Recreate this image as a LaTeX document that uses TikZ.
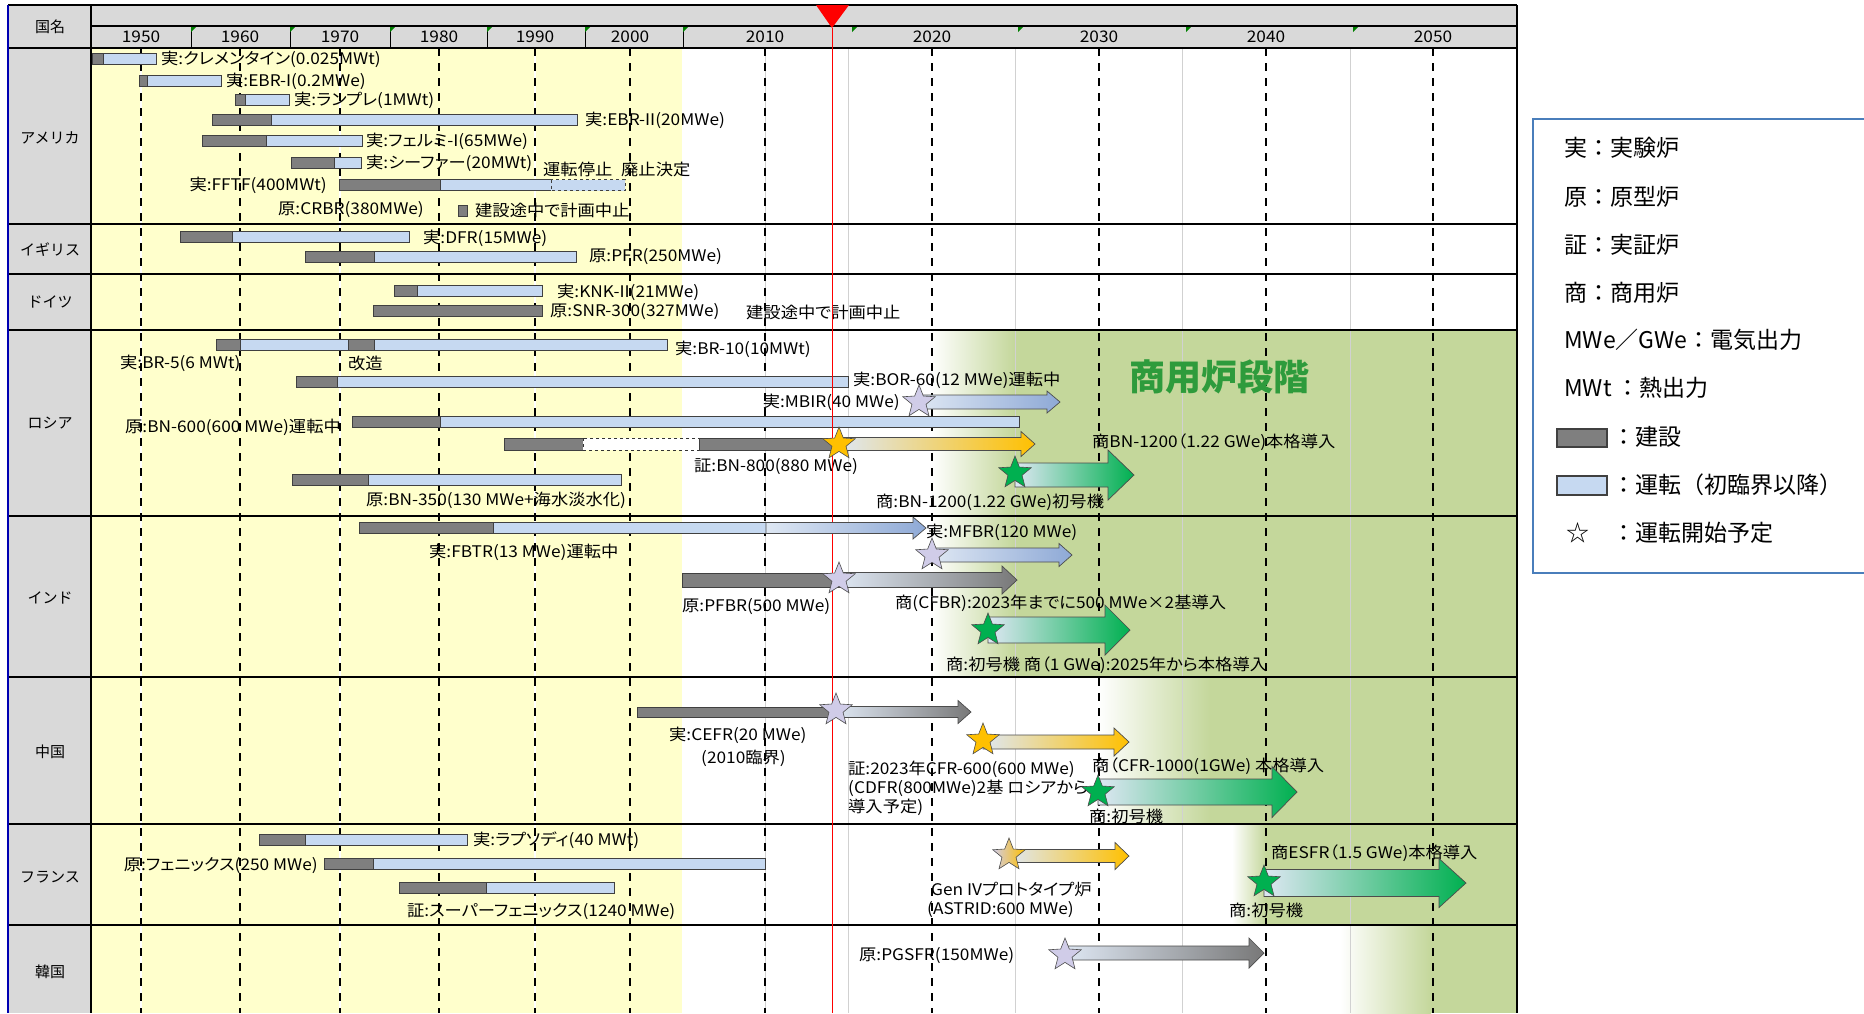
\documentclass[tikz,border=0pt]{standalone}
\usepackage{fontspec}
\setmainfont{Noto Sans CJK JP}
\newfontfamily\tblfont[FakeStretch=1.08, RawFeature=+palt]{Noto Sans CJK JP}
\usetikzlibrary{shapes.geometric}
\definecolor{buildgray}{RGB}{127,127,127}
\definecolor{runblue}{RGB}{198,217,241}
\definecolor{yellowbg}{RGB}{255,255,204}
\definecolor{greenbg}{RGB}{196,215,155}
\definecolor{headgray}{RGB}{217,217,217}
\definecolor{arrowbase}{RGB}{222,231,243}
\definecolor{arrowmid}{RGB}{190,208,232}
\definecolor{arrowsteel}{RGB}{142,169,214}
\definecolor{arrowgray}{RGB}{120,120,120}
\definecolor{gold}{RGB}{255,192,0}
\definecolor{stargreen}{RGB}{0,176,80}
\definecolor{lavender}{RGB}{208,204,232}
\definecolor{legendblue}{RGB}{74,126,187}
\definecolor{stagegreen}{RGB}{46,155,60}
\tikzset{>=stealth,
  build/.style={fill=buildgray, draw=black!75, line width=0.8pt},
  run/.style={fill=runblue, draw=black!75, line width=0.8pt},
  lbl/.style={anchor=west, inner sep=0pt, font=\tblfont\fontsize{16}{18}\selectfont},
  ctry/.style={inner sep=0pt, font=\fontsize{15}{18}\selectfont},
  legtext/.style={anchor=west, inner sep=0pt, font=\fontsize{23}{26}\selectfont},
  starpt/.style={star, star points=5, star point ratio=2.3, minimum size=34pt,
    inner sep=0pt, draw=black!70, line width=0.6pt},
  majordash/.style={line width=2.6pt, dash pattern=on 8pt off 7pt},
  minordash/.style={line width=1.6pt, dash pattern=on 8pt off 7pt},
  rowline/.style={line width=2pt}}
% gantt bar: y, start of building, first criticality, end
\newcommand{\gantt}[4]{%
  \draw[build] (#2,#1-5.5) rectangle (#3,#1+5.5);
  \draw[run] (#3,#1-5.5) rectangle (#4,#1+5.5);}
% block arrow: x1, x2, y, body half, head half, head length, end colour
\newcommand{\blk}[7]{%
  \shadedraw[left color=arrowbase, middle color=arrowmid, right color=#7,
    draw=black!70, line width=0.7pt]
  (#1,#3-#4) -- ({#2-#6},#3-#4) -- ({#2-#6},#3-#5) -- (#2,#3)
  -- ({#2-#6},#3+#5) -- ({#2-#6},#3+#4) -- (#1,#3+#4) -- cycle;}

\begin{document}
\begin{tikzpicture}[x=1pt,y=-1pt]
\useasboundingbox (0,0) rectangle (1864,1013);
\fill[white] (0,0) rectangle (1864,1013);

% backgrounds
\fill[headgray] (8,5) rectangle (1517,48);
\fill[headgray] (8,48) rectangle (91,1013);
\fill[yellowbg] (91,48) rectangle (682,1013);
\fill[greenbg] (1015,330) rectangle (1517,677);
\shade[left color=white, right color=greenbg] (931,330) rectangle (1015,677);
\fill[greenbg] (1210,677) rectangle (1517,824);
\shade[left color=white, right color=greenbg] (1098,677) rectangle (1210,824);
\fill[greenbg] (1266,824) rectangle (1517,925);
\shade[left color=white, right color=greenbg] (1232,824) rectangle (1266,925);
\fill[greenbg] (1431,925) rectangle (1517,1013);
\shade[left color=white, right color=greenbg] (1340,925) rectangle (1431,1013);

% grid
\foreach \x in {848,1015,1182,1350}
  \draw[black!18, line width=0.8pt] (\x,48) -- (\x,1013);
\foreach \x in {141,340,535}
  \draw[white, line width=1.5pt] (\x,48) -- (\x,1013);
\draw[black!18, line width=0.8pt] (765,48) -- (765,1013);
\foreach \x in {141,340,535,765}
  \draw[minordash] (\x,48) -- (\x,1013);
\foreach \x in {240,439,630,932,1099,1266,1433}
  \draw[majordash] (\x,48) -- (\x,1013);

% header
\draw[line width=1.5pt] (91,26) -- (1517,26);
\foreach \x in {191,290,390,487,585,683}
  \draw[line width=0.8pt] (\x,26) -- (\x,48);
\foreach \x in {191,290,390,487,585,683,852,1018,1186,1353}
  \fill[green!50!black] (\x,27) -- (\x+5,27) -- (\x,32) -- cycle;
\foreach \yr/\x in {1950/141,1960/240,1970/340,1980/439,1990/535,2000/630,
  2010/765,2020/932,2030/1099,2040/1266,2050/1433}
  \node[lbl, anchor=center] (y\yr) at (\x,37) {\yr};
\node[ctry] (head) at (50,27) {国名};

% table lines
\foreach \y in {48,224,274,330,516,677,824,925}
  \draw[rowline] (8,\y) -- (1517,\y);
\draw[line width=2.5pt] (8,5) -- (1517,5);
\draw[line width=2.5pt] (1517,5) -- (1517,1013);
\draw[rowline] (91,5) -- (91,1013);
\draw[blue!70!black, line width=1.5pt] (8,5) -- (8,1013);
\foreach \c/\y in {アメリカ/138,イギリス/250,ドイツ/302,ロシア/423,
  インド/598,中国/752,フランス/877,韓国/972}
  \node[ctry] (c\y) at (50,\y) {\c};

% present year
\fill[red] (816,5) -- (849,5) -- (832,28) -- cycle;

% America
\gantt{59}{92}{103}{156}
\node[lbl] (clem) at (161,59) {実:クレメンタイン(0.025MWt)};
\gantt{81}{139}{147}{221}
\node[lbl] (ebr1) at (226,81) {実:EBR-I(0.2MWe)};
\gantt{100}{235}{245}{289}
\node[lbl] (lampre) at (294,100) {実:ランプレ(1MWt)};
\gantt{120}{212}{271}{577}
\node[lbl] (ebr2) at (585,120) {実:EBR-II(20MWe)};
\gantt{141}{202}{266}{362}
\node[lbl] (fermi) at (366,141) {実:フェルミ-I(65MWe)};
\gantt{163}{291}{334}{361}
\node[lbl] (sefor) at (366,163) {実:シーファー(20MWt)};
\gantt{185}{339}{440}{551}
\draw[run, dashed] (551,179.5) rectangle (625,190.5);
\node[lbl, anchor=east] (fftf) at (327,185) {実:FFTF(400MWt)};
\node[lbl] (stop) at (543,169) {運転停止};
\node[lbl] (decom) at (621,169) {廃止決定};
\node[lbl] (crbr) at (278,210) {原:CRBR(380MWe)};
\draw[build] (458,205) rectangle (467,216);
\node[lbl] (crbrx) at (475,210) {建設途中で計画中止};

% UK
\gantt{237}{180}{232}{409}
\node[lbl] (dfr) at (423,238) {実:DFR(15MWe)};
\gantt{257}{305}{374}{576}
\node[lbl] (pfr) at (589,257) {原:PFR(250MWe)};

% Germany
\gantt{291}{394}{417}{542}
\node[lbl] (knk) at (557,292) {実:KNK-II(21MWe)};
\draw[build] (373,305.5) rectangle (542,316.5);
\node[lbl] (snr) at (550,312) {原:SNR-300(327MWe)};
\node[lbl] (snrx) at (746,312) {建設途中で計画中止};

% Russia
\gantt{345}{216}{240}{348}
\gantt{345}{348}{374}{667}
\node[lbl] (br5) at (120,363) {実:BR-5(6 MWt)};
\node[lbl] (kaizo) at (348,363) {改造};
\node[lbl] (br10) at (675,349) {実:BR-10(10MWt)};
\gantt{382}{296}{337}{848}
\node[lbl] (bor) at (853,380) {実:BOR-60(12 MWe)運転中};
\node[lbl, anchor=east] (mbir) at (900,402) {実:MBIR(40 MWe)};
\gantt{422}{352}{440}{1019}
\node[lbl] (bn600) at (125,427) {原:BN-600(600 MWe)運転中};
\draw[build] (504,438) rectangle (583,450);
\draw[fill=white, draw=black!80, line width=0.9pt, dashed] (583,438) rectangle (699,450);
\draw[build] (699,438) rectangle (839,450);
\node[lbl] (bn800) at (694,467) {証:BN-800(880 MWe)};
\gantt{480}{292}{368}{621}
\node[lbl] (bn350) at (366,500) {原:BN-350(130 MWe+海水淡水化)};
\node[lbl] (bn1200a) at (1092,442) {商BN-1200（1.22 GWe)本格導入};
\node[lbl] (bn1200b) at (876,502) {商:BN-1200(1.22 GWe)初号機};
\node[text=stagegreen, font=\fontsize{36}{40}\selectfont\bfseries] (stage) at (1219,377) {商用炉段階};

% India
\gantt{528}{359}{493}{766}
\node[lbl] (fbtr) at (429,552) {実:FBTR(13 MWe)運転中};
\node[lbl] (mfbr) at (926,532) {実:MFBR(120 MWe)};
\draw[build] (682,573) rectangle (839,587);
\node[lbl] (pfbr) at (682,607) {原:PFBR(500 MWe)};
\node[lbl] (cfbr) at (895,603) {商(CFBR):2023年までに500 MWe×2基導入};
\node[lbl] (ind1) at (946,665) {商:初号機 商（1 GWe):2025年から本格導入};

% China
\draw[build] (637,707) rectangle (836,717);
\node[lbl] (cefr) at (669,735) {実:CEFR(20 MWe)};
\node[lbl] (cefr2) at (701,758) {(2010臨界)};
\node[lbl] (cfr600) at (848,769) {証:2023年CFR-600(600 MWe)};
\node[lbl] (cdfr) at (848,788) {(CDFR(800MWe)2基 ロシアから};
\node[lbl] (cdfr2) at (848,807) {導入予定)};
\node[lbl] (cfr1000) at (1092,766) {商（CFR-1000(1GWe) 本格導入};
\node[lbl] (chn1) at (1089,816) {商:初号機};

% France
\gantt{840}{259}{305}{467}
\node[lbl] (rap) at (473,840) {実:ラプソディ(40 MWt)};
\gantt{864}{324}{373}{765}
\node[lbl, anchor=east] (phenix) at (318,866) {原:フェニックス(250 MWe)};
\gantt{888}{399}{486}{614}
\node[lbl] (spx) at (407,912) {証:スーパーフェニックス(1240 MWe)};
\node[lbl] (gen4) at (931,890) {Gen IVプロトタイプ炉};
\node[lbl] (astrid) at (927,910) {(ASTRID:600 MWe)};
\node[lbl] (esfr) at (1271,853) {商ESFR（1.5 GWe)本格導入};
\node[lbl] (fra1) at (1229,910) {商:初号機};

% Korea
\node[lbl] (pgsfr) at (859,956) {原:PGSFR(150MWe)};

\draw[red, line width=0.8pt] (832,28) -- (832,1013);

% planned arrows and stars
\blk{919}{1060}{402}{7}{11}{13}{arrowsteel}
\blk{839}{1035}{444}{6.5}{12.5}{14}{gold}
\blk{1015}{1134}{475}{12}{25}{26}{stargreen}
\blk{766}{926}{528}{5.5}{11}{13}{arrowsteel}
\blk{932}{1072}{555}{7}{11.5}{13}{arrowsteel}
\blk{839}{1017}{580}{7.5}{14}{15}{arrowgray}
\blk{988}{1130}{630}{13}{25}{25}{stargreen}
\blk{836}{971}{712}{5.5}{11.5}{13}{arrowgray}
\blk{983}{1129}{742}{7}{14}{15}{gold}
\blk{1098}{1297}{792}{13}{25.5}{25}{stargreen}
\blk{1009}{1129}{856}{6.5}{13.5}{14}{gold}
\blk{1264}{1466}{883}{13.5}{24.5}{27}{stargreen}
\blk{1065}{1264}{953}{7}{15}{15}{arrowgray}
\node[starpt, fill=lavender] (s_mbir) at (919,402) {};
\node[starpt, fill=gold] (s_bn800) at (839,444) {};
\node[starpt, fill=stargreen] (s_bn1200) at (1015,473) {};
\node[starpt, fill=lavender] (s_mfbr) at (932,555) {};
\node[starpt, fill=lavender] (s_pfbr) at (839,579) {};
\node[starpt, fill=stargreen] (s_cfbr) at (988,630) {};
\node[starpt, fill=lavender] (s_cefr) at (836,710) {};
\node[starpt, fill=gold] (s_cfr600) at (983,740) {};
\node[starpt, fill=stargreen] (s_cfr1000) at (1098,792) {};
\node[starpt, left color=lavender, right color=gold] (s_astrid) at (1009,855) {};
\node[starpt, fill=stargreen] (s_esfr) at (1264,882) {};
\node[starpt, fill=lavender] (s_pgsfr) at (1065,955) {};

% legend
\draw[legendblue, line width=1.3pt] (1880,119) -- (1533,119) -- (1533,573) -- (1880,573);
\node[legtext] (l1) at (1564,148) {実：実験炉};
\node[legtext] (l2) at (1564,197) {原：原型炉};
\node[legtext] (l3) at (1564,245) {証：実証炉};
\node[legtext] (l4) at (1564,293) {商：商用炉};
\node[legtext] (l5) at (1564,340) {MWe／GWe：電気出力};
\node[legtext] (l6) at (1564,388) {MWt ：熱出力};
\draw[build, line width=2pt] (1557,429) rectangle (1607,447);
\node[legtext] (l7) at (1612,437) {：建設};
\draw[run, line width=2pt] (1557,476) rectangle (1607,495);
\node[legtext] (l8) at (1612,485) {：運転（初臨界以降）};
\node[legtext] (l9s) at (1566,533) {☆};
\node[legtext] (l9) at (1612,533) {：運転開始予定};
\end{tikzpicture}
\end{document}
